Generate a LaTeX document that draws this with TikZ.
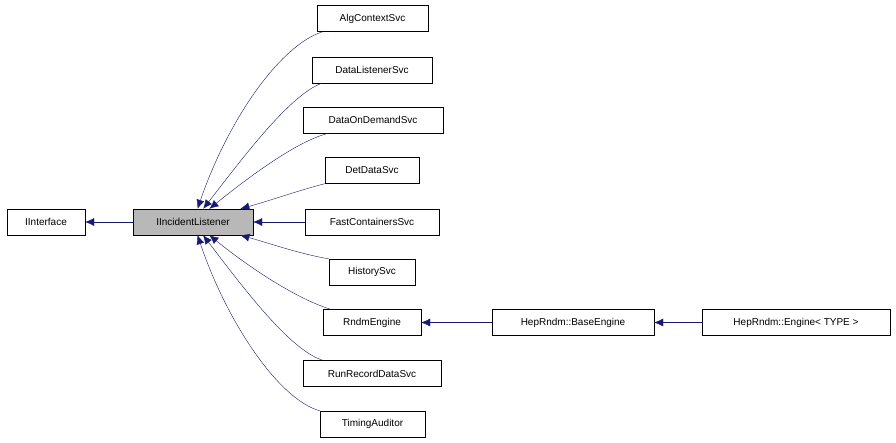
\documentclass[tikz,border=0pt]{standalone}
\usepackage{fontspec}
\setmainfont{Liberation Sans}
\usetikzlibrary{arrows.meta}
\definecolor{edgeblue}{RGB}{25,25,112}

\begin{document}
\begin{tikzpicture}[x=1pt,y=-1pt,
  cls/.style={draw=black,fill=white,minimum height=26pt,inner sep=0pt,font=\fontsize{10}{12}\selectfont},
  inh/.style={edgeblue,{Latex[length=9pt,width=8pt]}-}]
\useasboundingbox (0,0) rectangle (896,442);
\node [cls,minimum width=78pt] (iface) at (46,222) {IInterface};
\node [cls,minimum width=120pt,fill=black!28] (il) at (193,222) {IIncidentListener};
\node [cls,minimum width=111pt] (alg) at (372.5,18.5) {AlgContextSvc};
\node [cls,minimum width=120pt] (dls) at (372,70) {DataListenerSvc};
\node [cls,minimum width=140pt] (dod) at (373,120) {DataOnDemandSvc};
\node [cls,minimum width=94pt] (det) at (372,170.5) {DetDataSvc};
\node [cls,minimum width=134pt] (fcs) at (372,222) {FastContainersSvc};
\node [cls,minimum width=86pt] (hist) at (372,272) {HistorySvc};
\node [cls,minimum width=98pt] (rndm) at (372,322.5) {RndmEngine};
\node [cls,minimum width=138pt] (rrd) at (372,373.5) {RunRecordDataSvc};
\node [cls,minimum width=105pt] (timing) at (372.5,424) {TimingAuditor};
\node [cls,minimum width=162pt] (base) at (573,322.5) {HepRndm::BaseEngine};
\node [cls,minimum width=188pt] (eng) at (796,322.5) {HepRndm::Engine< TYPE >};
% inheritance
\draw [inh] (iface) -- (il);
\draw [inh] (il) -- (fcs);
\draw [inh] (rndm) -- (base);
\draw [inh] (base) -- (eng);
\draw [inh] (il) .. controls (228,120) and (280,45) .. ([xshift=6pt]alg.south west);
\draw [inh] (il) .. controls (245,155) and (290,95) .. ([xshift=10pt]dls.south west);
\draw [inh] (il) .. controls (255,172) and (300,140) .. ([xshift=26pt]dod.south west);
\draw [inh] (il) .. controls (272,200) and (300,190) .. (det.south west);
\draw [inh] (il) .. controls (272,244) and (300,254) .. (hist.north west);
\draw [inh] (il) .. controls (255,272) and (300,300) .. ([xshift=8pt]rndm.north west);
\draw [inh] (il) .. controls (245,290) and (290,350) .. ([xshift=20pt]rrd.north west);
\draw [inh] (il) .. controls (228,325) and (280,400) .. ([xshift=0pt]timing.north west);
\end{tikzpicture}
\end{document}
